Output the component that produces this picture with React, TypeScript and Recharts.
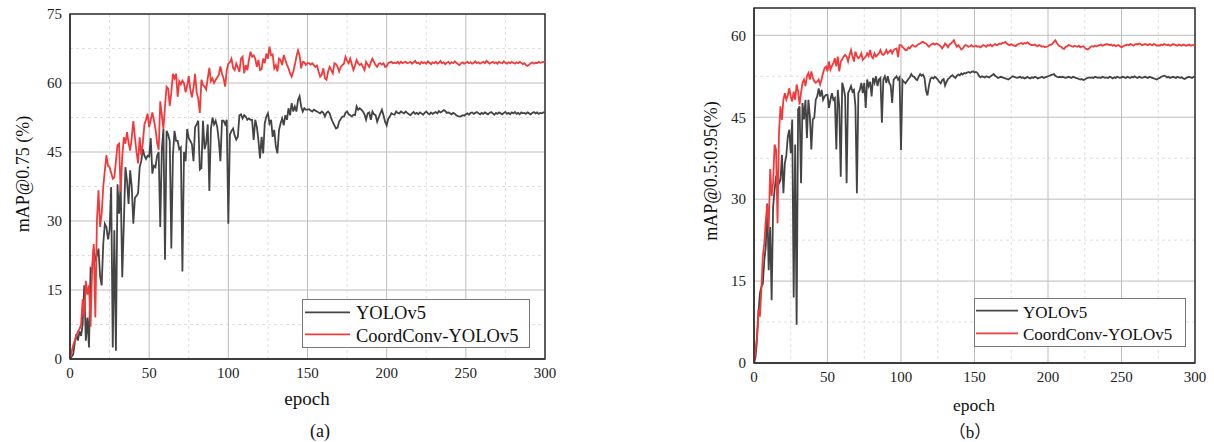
import React from "react";
import { LineChart, Line, XAxis, YAxis, CartesianGrid, ReferenceArea } from "recharts";

const FONT = '"Liberation Serif", "Times New Roman", serif';

const SERIES_NAMES = ["YOLOv5", "CoordConv-YOLOv5"];
const SERIES_COLORS = ["#444444", "#f23a3a"];

const X_TICKS = [0, 50, 100, 150, 200, 250, 300];
const Y_TICKS_A = [0, 15, 30, 45, 60, 75];
const Y_TICKS_B = [0, 15, 30, 45, 60];

// Chart (a): mAP@0.75 per epoch 0..300
const A_YOLO = [
  0, 0.5, 1, 3.5, 5.4, 4, 6, 5, 7.6, 16,
  4, 9, 2.5, 19.6, 19, 24, 21.6, 22.5, 24, 18,
  16, 25, 29.4, 28.7, 26, 28, 37.4, 2.5, 28, 1.8,
  38, 31.6, 38, 17.8, 29.4, 41.7, 38.8, 33.7, 41, 37.4,
  29.4, 35, 35.5, 36, 41.7, 43, 45.6, 44.2, 43.5, 44.2,
  44, 48, 40.3, 42, 41.7, 44.2, 45, 28.7, 45.6, 50,
  21.6, 49.6, 48.8, 47.4, 24, 44.2, 49.6, 47.4, 47.4, 45.6,
  46, 19, 45, 43, 50, 48, 47.4, 46.7, 43, 50.4,
  51, 51.8, 41.2, 41.5, 51.8, 45.6, 47, 51, 36.5, 50,
  52.5, 51, 51.8, 50.4, 47.4, 43, 51.8, 51.8, 51, 52,
  29.4, 48.8, 49.6, 50.1, 48.6, 47.7, 48.3, 53, 53.2, 52.3,
  53, 52.7, 52, 52.3, 52, 52, 47.6, 52, 50.5, 47.6,
  43.6, 48.3, 44.7, 51.2, 52.7, 53.4, 51.2, 52, 48.3, 49.8,
  46.2, 44.7, 49.8, 51.2, 52.3, 50.8, 53, 52, 54.5, 53,
  55.6, 53.8, 54.9, 53.8, 56.3, 57.1, 54.9, 53.8, 54.5, 54.2,
  54.2, 54.3, 54, 53.8, 54.2, 54, 53.8, 53.6, 53.4, 53.8,
  53.5, 52.7, 53.5, 53.8, 53.4, 52.3, 51.5, 50.8, 50.1, 50.3,
  51.6, 52.2, 52.7, 52.7, 53.5, 53.8, 53.2, 53, 52.7, 53.1,
  53, 54.9, 54.2, 54.5, 54.2, 53.8, 53.2, 52, 53.4, 53.6,
  52, 53.8, 53.2, 53, 51.6, 52.5, 53.4, 54.2, 53, 51.6,
  50.8, 52.2, 52.7, 53.4, 53.2, 53.1, 53.8, 53.5, 53.4, 53.8,
  53.6, 53.4, 53.8, 53.5, 53.2, 53, 53.4, 53.7, 53.3, 53.5,
  53.2, 53.6, 53.4, 53.1, 53.5, 53.8, 53.4, 53.2, 53.6, 53.3,
  53.5, 53.7, 53.4, 53.9, 53.6, 53.8, 54.1, 53.9, 53.5, 53.6,
  53.4, 53.2, 53.5, 53.3, 53, 52.8, 52.7, 52.8, 53, 52.9,
  53.2, 53.4, 53.1, 53.5, 53.6, 53.3, 53.5, 53.7, 53.4, 53.2,
  53.5, 53.3, 53.6, 53.4, 53.2, 53.5, 53.7, 53.4, 53.1, 53.5,
  53.3, 53.6, 53.4, 53.2, 53.5, 53.7, 53.3, 53.5, 53.2, 53.6,
  53.4, 53.7, 53.3, 53.5, 53.2, 53.6, 53.4, 53.5, 53.3, 53.6,
  53.4, 53.2, 53.5, 53.7, 53.4, 53.6, 53.3, 53.5, 53.4, 53.6,
  53.6,
];

const A_COORD = [
  0, 1.5, 3, 4, 5, 6, 6.5, 7.5, 13, 9,
  17, 14, 16, 7, 20, 25, 9, 30, 36.7, 28.7,
  31.6, 37.4, 41, 44.3, 42, 41.7, 40.5, 39.2, 39.5, 43,
  46.5, 46.8, 36.3, 44, 48.2, 46.8, 49.3, 47, 45.3, 48.2,
  51.7, 48.2, 45, 42.5, 48.2, 44.3, 47, 51, 52, 53.3,
  50.4, 52, 53.6, 51.9, 50, 47, 45.5, 56, 53, 50,
  55, 59.2, 58.8, 55, 58, 62, 61, 62, 57, 60.4,
  59.7, 60.5, 60, 58, 59.5, 61.5, 58.6, 56.9, 59, 62,
  58, 56.5, 53.5, 60.7, 59.5, 59.2, 58.6, 61, 63.3, 60.4,
  61, 60, 60.7, 61.2, 61.8, 63.6, 62, 61, 59.2, 62.8,
  64.2, 64.5, 65.3, 63.3, 62.8, 64.2, 63.4, 62.4, 65.3, 65.7,
  62.1, 63.9, 62.8, 65, 66.8, 65.7, 66, 65.3, 63.5, 65,
  62.8, 63, 65.3, 64.3, 66.4, 65.3, 67.9, 66, 66.2, 63.2,
  63.9, 62.5, 65.3, 65, 63.9, 66.1, 65, 64, 63.2, 62.1,
  61.4, 62.5, 63.9, 65.7, 67.1, 66, 63.2, 64.6, 64.5, 63.9,
  64.3, 64.3, 64, 64.3, 63.9, 63.5, 63.8, 62.5, 61.4, 61.8,
  63.2, 61, 60.7, 62.5, 63.5, 62.8, 62.1, 64.3, 64.1, 63.5,
  62.5, 63.5, 63.9, 64.2, 65.7, 64.8, 64.3, 65.3, 64, 62.8,
  63.8, 65, 64.3, 63.9, 64.2, 63.5, 62.8, 64.6, 64, 63.5,
  64.5, 65.3, 64.6, 63.9, 63.5, 64.2, 64.3, 64, 64.3, 63.5,
  63.6, 64.3, 64.5, 64.6, 64.3, 64.4, 64.3, 64.6, 64.2, 64.6,
  64.3, 64.5, 64.6, 64.3, 64.4, 64.6, 64.2, 64.5, 64.8, 64.3,
  64.4, 64.1, 64.6, 64.3, 64.5, 64.2, 64.7, 64.4, 64.1, 64.5,
  64.3, 64.6, 64.2, 64.4, 64.8, 64.3, 64.5, 64.1, 64.4, 64.6,
  64.2, 64.5, 64.3, 64.7, 64.4, 64.1, 63.9, 64.3, 64.5, 64.2,
  64.4, 64.6, 64.3, 64.5, 64.2, 64.4, 64.7, 64.3, 64.5, 64.2,
  64.4, 64.6, 64.3, 64.8, 64.5, 64.2, 64.4, 64.6, 64.3, 64.5,
  64.2, 64.6, 64.4, 64.3, 64.7, 64.4, 64.2, 64.5, 64.3, 64.6,
  64.4, 64.2, 64.5, 64.3, 64.6, 64.4, 64.1, 64.3, 63.9, 63.7,
  64, 64.3, 64.5, 64.2, 64.4, 64.3, 64.6, 64.4, 64.5, 64.6,
  64.6,
];

// Chart (b): mAP@0.5:0.95 per epoch 0..300
const B_YOLO = [
  0, 1, 4.1, 9, 12.7, 13.9, 14.5, 18.8, 21.3, 29.2,
  17, 24.9, 11.5, 28.6, 31.7, 34.1, 34.7, 32.9, 33.5, 38.1,
  31.1, 36.6, 38, 41.5, 42.7, 38.4, 44.6, 12, 40, 7,
  46.4, 47, 32.9, 47.6, 44.6, 48.2, 41.2, 48.2, 45.2, 39.1,
  44.6, 44.9, 48.2, 48.8, 50.3, 48.8, 50, 48.2, 48.8, 49.1,
  49.1, 46.7, 48.2, 49.4, 48.2, 48.5, 39.1, 50, 47, 34.1,
  51.3, 50.3, 48.8, 32.9, 49.4, 50, 50.7, 49.7, 50, 47,
  31.1, 49.4, 50, 51.3, 49.4, 51.3, 46.7, 51.9, 50.7, 51.5,
  48.8, 52.2, 51.3, 52.5, 50.7, 51.9, 52.2, 44, 51.9, 52.5,
  51.3, 52.5, 51.3, 50.8, 47.6, 51.9, 52.2, 52.5, 51.9, 52.3,
  39, 51.8, 51.5, 51.2, 51.6, 52, 52.3, 52.9, 52.5, 52.4,
  52, 51.8, 52.4, 52.9, 52.6, 52.8, 52.2, 49.9, 49, 50.8,
  52, 52.3, 52.1, 52.4, 52.2, 51.9, 51.5, 51.2, 51.8, 52,
  50.8, 51.5, 52, 52.2, 52.5, 52.7, 52.4, 52.2, 52.6, 52.8,
  52.7, 53, 52.8, 53.1, 53, 53.2, 53.3, 53.1, 53.3, 53.4,
  53.2, 53.3, 53.1, 52.6, 52.3, 52.5, 52.4, 52.3, 52.5, 52.4,
  52.3, 52.5, 52.7, 52.9, 52.6, 52.4, 52.2, 52.3, 52.4, 52.3,
  52.2, 52.1, 52, 51.9, 52.1, 52.3, 52.5, 52.4, 52.3, 52.2,
  52.3, 52.4, 52.2, 52.3, 52.1, 52.2, 52.4, 52.2, 52.1, 52.3,
  52.2, 52.4, 52.3, 52.1, 52.2, 52.3, 52.4, 52.2, 52.3, 52.4,
  52.5, 52.6, 52.7, 52.8, 52.9, 52.6, 52.4, 52.3, 52.4, 52.3,
  52.4, 52.3, 52.2, 52.3, 52.4, 52.3, 52.2, 52.4, 52.3, 52.2,
  52.1, 52, 51.9, 52, 51.8, 51.9, 52.1, 52.2, 52.3, 52.2,
  52.3, 52.2, 52.4, 52.3, 52.2, 52.3, 52.2, 52.4, 52.3, 52.2,
  52.3, 52.2, 52.4, 52.3, 52.1, 52.3, 52.2, 52.4, 52.3, 52.2,
  52.3, 52.4, 52.3, 52.2, 52.4, 52.3, 52.2, 52.4, 52.3, 52.5,
  52.3, 52.2, 52.4, 52.3, 52.2, 52.3, 52.4, 52.3, 52.2, 52.4,
  52.3, 52.2, 52.1, 52, 51.9, 52.1, 52.2, 52.4, 52.5, 52.6,
  52.5, 52.3, 52.4, 52.2, 52.3, 52.4, 52.3, 52.2, 52.4, 52.3,
  52.2, 52.3, 52.1, 52, 52.2, 52.3, 52.4, 52.3, 52.2, 52.4,
  52.4,
];

const B_COORD = [
  0, 2.3, 4.8, 9.7, 8.5, 13.4, 19.5, 21.9, 26, 29,
  24.4, 35.5, 30.6, 33, 40, 39, 25.6, 42.1, 47, 44.5,
  48.2, 49.4, 48.2, 49, 50.3, 48.8, 47.9, 49.7, 48.2, 51,
  49.7, 47.3, 49.5, 51.3, 51.9, 50.7, 52.5, 53.1, 51.9, 53.4,
  52.2, 51.6, 51.3, 51.5, 51.9, 51, 52, 53.1, 54, 54.3,
  53.4, 55.2, 53.7, 54.4, 54.9, 55.8, 54.3, 56.1, 53.4, 55.2,
  55.6, 56.1, 56.4, 56.1, 55.2, 56.4, 57.3, 56.1, 55.2, 57,
  56.2, 55.8, 56.1, 56.7, 55.5, 55.8, 56.1, 56.7, 56.2, 57.3,
  56.1, 55.8, 56.7, 56.1, 56.4, 56.7, 57.3, 56.6, 56.4, 56.7,
  57.3, 56.7, 57, 57.3, 56.7, 57.3, 57.5, 57.6, 56, 58.2,
  58.2, 57.9, 57.6, 57.3, 57.3, 57.8, 57.6, 58, 58.2, 58,
  57.9, 58.2, 58.4, 58.5, 58.7, 58.8, 58.6, 58.5, 58.2, 57.9,
  58.2, 58.4, 58.5, 58.3, 58.5, 58.4, 58.2, 58, 57.6, 58,
  58.5, 58.2, 57.8, 58.3, 58.5, 58.8, 59.1, 58.4, 57.9, 58.2,
  57.8, 57.4, 57.6, 58, 58.2, 58.1, 57.9, 58, 58.2, 57.9,
  58, 58.1, 57.9, 58, 57.8, 58, 58.2, 58.1, 57.9, 58.2,
  58.1, 58.3, 58, 58.2, 58.4, 58.2, 58.3, 58.5, 58.4, 58.6,
  58.6, 58.8, 58.5, 58.3, 58.2, 58.4, 58.2, 58.1, 58, 58.3,
  58.4, 58.5, 58.6, 58.4, 58.6, 58.5, 58.7, 58.5, 58.3, 58.2,
  58.2, 58.3, 58.1, 58, 58.2, 58.1, 57.9, 58, 57.8, 57.9,
  58, 58.2, 58.3, 58.4, 58.8, 59.1, 58.6, 58.2, 58, 57.9,
  57.6, 57.5, 57.9, 58, 58.2, 58.1, 58, 57.9, 58.1, 58,
  57.9, 58.1, 57.8, 57.9, 58, 57.7, 57.5, 57.4, 57.6, 57.9,
  58, 57.9, 58.1, 58, 58.1, 58.2, 58.3, 58.1, 58.2, 58.3,
  58.4, 58.3, 58.2, 58.3, 58.1, 58.2, 58, 58.1, 58.2, 58,
  57.8, 58, 58.1, 58.2, 58.3, 58.2, 58.4, 58.3, 58.1, 58.3,
  58.4, 58.3, 58.5, 58.4, 58.2, 58.3, 58.4, 58.3, 58.2, 58.4,
  58.3, 58.2, 58.4, 58.3, 58.1, 58.2, 58.1, 58.3, 58.2, 58.4,
  58.3, 58.2, 58.3, 58.1, 58.2, 58.4, 58.3, 58.2, 58.1, 58.3,
  58.2, 58.1, 58.3, 58.2, 58.1, 58.2, 58.3, 58.1, 58.2, 58.2,
  58.2,
];

const EPOCHS = A_YOLO.map((_, i) => i);

const DATA_A = EPOCHS.map((e, i) => ({ epoch: e, yolo: A_YOLO[i], coord: A_COORD[i] }));
const DATA_B = EPOCHS.map((e, i) => ({ epoch: e, yolo: B_YOLO[i], coord: B_COORD[i] }));

const mids = (t: number[]) => t.slice(1).map((v, i) => (v + t[i]) / 2);

type PanelProps = {
  left: number;
  width: number;
  height: number;
  margin: { top: number; right: number; bottom: number; left: number };
  yAxisWidth: number;
  data: { epoch: number; yolo: number; coord: number }[];
  yDomain: [number, number];
  yTicks: number[];
};

function Panel(p: PanelProps) {
  const tickStyle = { fontSize: 15, fill: "#222", fontFamily: FONT };
  const yMinor = mids(p.yTicks);
  const xMinor = mids(X_TICKS);
  return (
    <div style={{ position: "absolute", left: p.left, top: 0, fontFamily: FONT }}>
      <LineChart width={p.width} height={p.height} data={p.data} margin={p.margin} style={{ fontFamily: FONT }}>
        <CartesianGrid
          stroke="#e0e0e0"
          strokeDasharray="3 3"
          horizontalValues={yMinor}
          verticalValues={xMinor}
        />
        <CartesianGrid stroke="#bdbdbd" strokeWidth={1} />
        <XAxis
          dataKey="epoch"
          type="number"
          domain={[0, 300]}
          ticks={X_TICKS}
          interval={0}
          tick={tickStyle}
          tickLine={false}
          tickSize={6}
          tickMargin={2}
          axisLine={{ stroke: "#333", strokeWidth: 1.5 }}
          height={30}
        />
        <YAxis
          type="number"
          domain={p.yDomain}
          ticks={p.yTicks}
          interval={0}
          tick={tickStyle}
          tickLine={false}
          tickSize={6}
          tickMargin={2}
          axisLine={{ stroke: "#333", strokeWidth: 1.5 }}
          width={p.yAxisWidth}
          allowDataOverflow
        />
        <Line
          type="linear"
          dataKey="yolo"
          name={SERIES_NAMES[0]}
          stroke={SERIES_COLORS[0]}
          strokeWidth={1.8}
          dot={false}
          isAnimationActive={false}
        />
        <Line
          type="linear"
          dataKey="coord"
          name={SERIES_NAMES[1]}
          stroke={SERIES_COLORS[1]}
          strokeWidth={1.8}
          dot={false}
          isAnimationActive={false}
        />
        <ReferenceArea
          x1={0}
          x2={300}
          y1={p.yDomain[0]}
          y2={p.yDomain[1]}
          fill="none"
          fillOpacity={0}
          stroke="#333"
          strokeWidth={1.5}
          ifOverflow="visible"
        />
      </LineChart>
    </div>
  );
}

type LegendProps = {
  x: number;
  y: number;
  w: number;
  h: number;
  lineX1: number;
  lineX2: number;
  textX: number;
  lineYs: number[];
  baselines: number[];
  fontSize: number;
};

function LegendBox(l: LegendProps) {
  return (
    <g>
      <rect x={l.x} y={l.y} width={l.w} height={l.h} fill="#fff" stroke="#777" strokeWidth={1} />
      {SERIES_NAMES.map((n, i) => (
        <g key={n}>
          <line x1={l.lineX1} x2={l.lineX2} y1={l.lineYs[i]} y2={l.lineYs[i]} stroke={SERIES_COLORS[i]} strokeWidth={1.8} />
          <text x={l.textX} y={l.baselines[i]} fontSize={l.fontSize} fontFamily={FONT} fill="#111">
            {n}
          </text>
        </g>
      ))}
    </g>
  );
}

export default function App() {
  return (
    <div
      style={{
        position: "absolute",
        left: 0,
        top: 0,
        width: 1214,
        height: 442,
        background: "#fff",
        overflow: "hidden",
        fontFamily: FONT,
      }}
    >
      <Panel
        left={0}
        width={560}
        height={442}
        margin={{ top: 14, right: 15, bottom: 53, left: 0 }}
        yAxisWidth={70}
        data={DATA_A}
        yDomain={[0, 75]}
        yTicks={Y_TICKS_A}
      />
      <Panel
        left={680}
        width={534}
        height={442}
        margin={{ top: 8, right: 19, bottom: 49, left: 0 }}
        yAxisWidth={74}
        data={DATA_B}
        yDomain={[0, 65]}
        yTicks={Y_TICKS_B}
      />
      <svg
        width={1214}
        height={442}
        style={{ position: "absolute", left: 0, top: 0, pointerEvents: "none" }}
      >
        <text transform="translate(28.5,174) rotate(-90)" textAnchor="middle" fontSize={18} fontFamily={FONT} fill="#111">
          mAP@0.75 (%)
        </text>
        <text x={307} y={405} textAnchor="middle" fontSize={19} fontFamily={FONT} fill="#111">
          epoch
        </text>
        <text x={320} y={437} textAnchor="middle" fontSize={18} fontFamily={FONT} fill="#111">
          (a)
        </text>
        <text transform="translate(716.5,171) rotate(-90)" textAnchor="middle" fontSize={18} fontFamily={FONT} fill="#111">
          mAP@0.5:0.95(%)
        </text>
        <text x={974} y={410.5} textAnchor="middle" fontSize={17.5} fontFamily={FONT} fill="#111">
          epoch
        </text>
        <text x={970} y={438} textAnchor="middle" fontSize={17} fontFamily={`${FONT}, "Noto Sans CJK SC"`} fill="#111">
          （b）
        </text>
        <LegendBox
          x={302.5}
          y={299.5}
          w={227}
          h={48}
          lineX1={305}
          lineX2={350}
          textX={356}
          lineYs={[312.3, 334.3]}
          baselines={[319, 341.5]}
          fontSize={18.5}
        />
        <LegendBox
          x={974.5}
          y={298.5}
          w={211}
          h={48}
          lineX1={976}
          lineX2={1018}
          textX={1023}
          lineYs={[310.7, 333.3]}
          baselines={[318, 340]}
          fontSize={17}
        />
      </svg>
    </div>
  );
}
